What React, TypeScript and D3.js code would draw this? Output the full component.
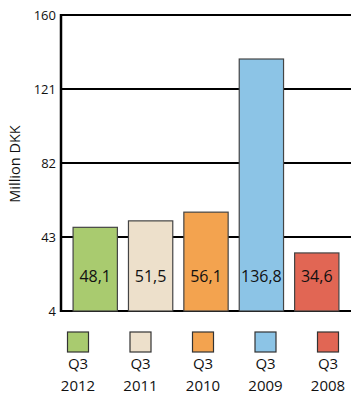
import React from "react";
import * as d3 from "d3";

const categories = ["Q3 2012", "Q3 2011", "Q3 2010", "Q3 2009", "Q3 2008"];
const values = [48.1, 51.5, 56.1, 136.8, 34.6];
const valueLabels = ["48,1", "51,5", "56,1", "136,8", "34,6"];
const colors = ["#a9cb6f", "#ede0cb", "#f3a34f", "#8cc4e6", "#e16654"];
const yTicks = [4, 43, 82, 121, 160];

export default function App() {
  const W = 351, H = 394;
  const y = d3.scaleLinear().domain([4, 160]).range([311, 15]);
  const x = d3.scaleBand<string>().domain(categories).range([62, 350]).paddingInner(0.2).paddingOuter(0.2);
  const lx = d3.scalePoint<string>().domain(categories).range([78, 328]);
  const font = "'Open Sans', sans-serif";
  return (
    <svg width={W} height={H} style={{ position: "absolute", left: 0, top: 0 }}>
      {yTicks.map((t) => (
        <g key={t}>
          <line x1={61} x2={351} y1={y(t)} y2={y(t)} stroke="#000" strokeWidth={2} />
          <text x={56} y={y(t)} dy="0.35em" textAnchor="end" fontSize={13} fontFamily={font} fill="#111">{t}</text>
        </g>
      ))}
      <line x1={61} x2={61} y1={14} y2={312} stroke="#000" strokeWidth={2.5} />
      <text transform="translate(20,164) rotate(-90)" textAnchor="middle" fontSize={14.5} fontFamily={font} fill="#111">Million DKK</text>
      {categories.map((c, i) => (
        <g key={c}>
          <rect x={x(c)!} y={y(values[i])} width={x.bandwidth()} height={y(4) - y(values[i])} fill={colors[i]} stroke="#444" strokeWidth={1.2} />
          <text x={x(c)! + x.bandwidth() / 2} y={276} dy="0.35em" textAnchor="middle" fontSize={16} fontFamily={font} fill="#111">{valueLabels[i]}</text>
          <rect x={lx(c)! - 10.5} y={332} width={21} height={20} fill={colors[i]} stroke="#333" strokeWidth={1.2} />
          <text x={lx(c)!} y={369} textAnchor="middle" fontSize={15} fontFamily={font} fill="#111">{c.split(" ")[0]}</text>
          <text x={lx(c)!} y={391} textAnchor="middle" fontSize={15} fontFamily={font} fill="#111">{c.split(" ")[1]}</text>
        </g>
      ))}
    </svg>
  );
}
